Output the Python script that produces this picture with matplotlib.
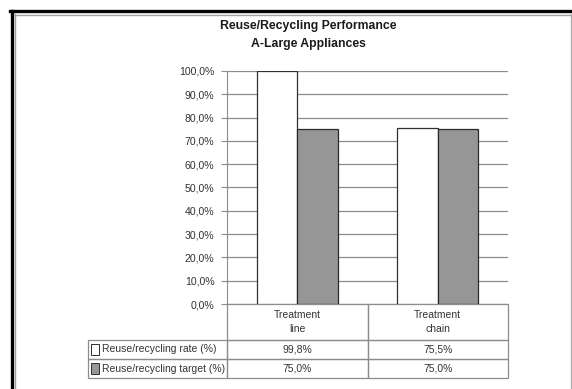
import matplotlib.pyplot as plt
import matplotlib.transforms as mtransforms
from matplotlib.patches import Rectangle
from matplotlib.lines import Line2D

# data
categories = ['Treatment\nline', 'Treatment\nchain']
series_names = ['Reuse/recycling rate (%)', 'Reuse/recycling target (%)']
rate = [99.8, 75.5]
target = [75.0, 75.0]
series_colors = ['#ffffff', '#969696']
yticks = [0, 10, 20, 30, 40, 50, 60, 70, 80, 90, 100]

plt.rcParams['font.family'] = ['Liberation Sans', 'DejaVu Sans']

W, H = 572, 389
fig = plt.figure(figsize=(W / 100, H / 100), dpi=100)
fig.patch.set_facecolor('white')

# outer chart frame (Excel style)
fig.add_artist(Line2D([11.5 / W, 11.5 / W], [0, 1 - 10.5 / H], color='black', lw=2.4))
fig.add_artist(Line2D([10 / W, 1], [1 - 11 / H, 1 - 11 / H], color='black', lw=2.4))
fig.add_artist(Line2D([15 / W, 15 / W], [0, 1 - 14 / H], color='#a0a0a0', lw=1))
fig.add_artist(Line2D([14 / W, 1], [1 - 14.5 / H, 1 - 14.5 / H], color='#a0a0a0', lw=1))
fig.add_artist(Line2D([571 / W, 571 / W], [0, 1 - 14 / H], color='#b0b0b0', lw=1))

fig.text(308 / W, 1 - 26 / H, 'Reuse/Recycling Performance', ha='center', va='center',
         fontsize=8.8, fontweight='bold', color='#1a1a1a')
fig.text(308 / W, 1 - 43.5 / H, 'A-Large Appliances', ha='center', va='center',
         fontsize=8.8, fontweight='bold', color='#1a1a1a')

ax = fig.add_axes([227 / W, 1 - 304 / H, 281 / W, 233 / H])
x = [i + 0.5 for i in range(len(categories))]
bw = 0.288
ax.bar([p - bw / 2 for p in x], rate, width=bw, color=series_colors[0],
       edgecolor='#303030', linewidth=0.9, zorder=3)
ax.bar([p + bw / 2 for p in x], target, width=bw, color=series_colors[1],
       edgecolor='#2a2a2a', linewidth=0.9, zorder=3)

ax.set_xlim(0, len(categories))
ax.set_ylim(0, 100)
ax.set_yticks(yticks)
ax.set_yticklabels([f'{t:.1f}%'.replace('.', ',') for t in yticks], fontsize=7.6, color='#333333')
ax.yaxis.grid(True, color='#8c8c8c', linewidth=0.9)
ax.set_axisbelow(True)
ax.set_xticks([])
for s in ['top', 'right', 'bottom']:
    ax.spines[s].set_visible(False)
ax.spines['left'].set_color('#8c8c8c')
ax.tick_params(axis='y', length=4, color='#8c8c8c', pad=5)

# data table under the plot
tr = mtransforms.blended_transform_factory(ax.transData, ax.transAxes)
edge = '#8c8c8c'
hdr_h = 36 / 233
row_h = 19 / 233
label_left = -0.99
fs = 7.5

def cell(x0, y0, w, h):
    ax.add_patch(Rectangle((x0, y0), w, h, transform=tr, fill=False, edgecolor=edge,
                           linewidth=0.9, clip_on=False))

for i, cat in enumerate(categories):
    cell(i, -hdr_h, 1, hdr_h)
    ax.text(i + 0.5, -hdr_h / 2, cat, transform=tr, ha='center', va='center',
            fontsize=fs, color='#333333', linespacing=1.4)

rows = [rate, target]
for r, vals in enumerate(rows):
    y0 = -hdr_h - (r + 1) * row_h
    cell(label_left, y0, -label_left, row_h)
    ax.add_patch(Rectangle((label_left + 0.02, y0 + row_h * 0.2), 0.056, row_h * 0.6,
                           transform=tr, facecolor=series_colors[r], edgecolor='#303030',
                           linewidth=0.7, clip_on=False))
    ax.text(label_left + 0.1, y0 + row_h / 2, series_names[r], transform=tr,
            ha='left', va='center', fontsize=fs, color='#333333')
    for i, v in enumerate(vals):
        cell(i, y0, 1, row_h)
        ax.text(i + 0.5, y0 + row_h / 2, f'{v:.1f}%'.replace('.', ','), transform=tr,
                ha='center', va='center', fontsize=fs, color='#333333')

fig.savefig('out.png', dpi=100)
